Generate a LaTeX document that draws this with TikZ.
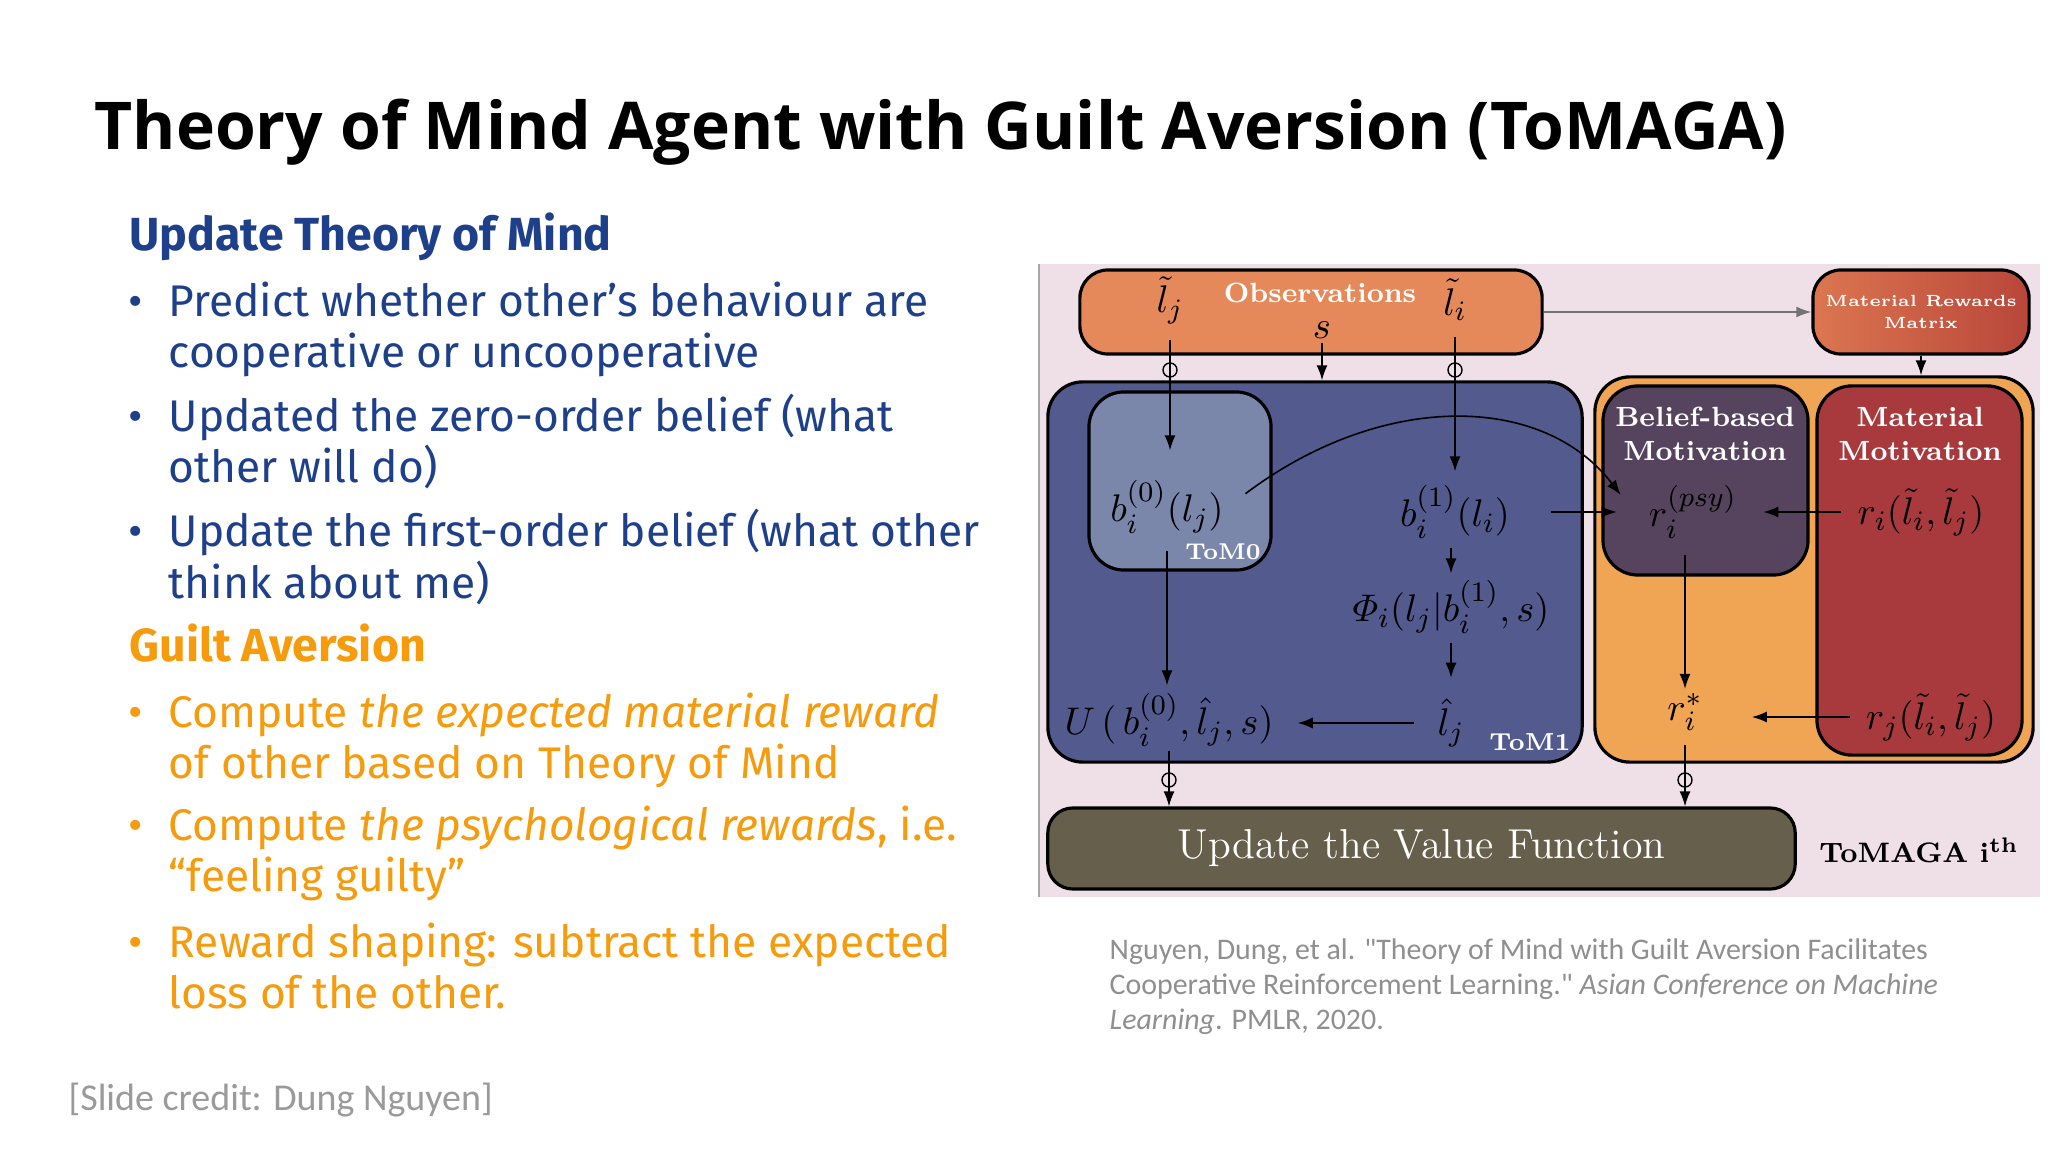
\documentclass[tikz,border=0pt]{standalone}
\usepackage{fontspec}
\usepackage{amsmath}
\usetikzlibrary{arrows.meta, calc}
\newfontfamily\titlefont{Open Sans}
\newfontfamily\slidefont{Fira Sans}
\newfontfamily\citefont{Carlito}
\definecolor{navytext}{HTML}{1E3F8A}
\definecolor{orangetext}{HTML}{F59B0C}
\definecolor{citegray}{HTML}{8F8F8F}
\definecolor{diagbg}{HTML}{EFE0E7}
\definecolor{obsorange}{HTML}{E6895A}
\definecolor{mrmlight}{HTML}{DC7650}
\definecolor{mrmdark}{HTML}{B8463A}
\definecolor{tomblue}{HTML}{525A8E}
\definecolor{tomlight}{HTML}{7A86AA}
\definecolor{guiltorange}{HTML}{EFA553}
\definecolor{beliefpurple}{HTML}{56445F}
\definecolor{matred}{HTML}{A83A3E}
\definecolor{updolive}{HTML}{665F4B}
\tikzset{%
	box/.style = { draw=black, line width=0.9pt, inner sep=0pt },
	arr/.style = { -{Latex[length=1.5mm, width=1.1mm]}, line width=0.45pt },
	boxlabel/.style = { white, align=center, font=\bfseries\fontsize{7.9}{9.8}\selectfont },
	mathlabel/.style = { inner sep=1pt, font=\fontsize{10.8}{13}\selectfont },
	slideline/.style = { anchor=base west, inner sep=0pt },
	headfont/.style = { font=\slidefont\bfseries\fontsize{13.2}{15}\selectfont },
	bodyfont/.style = { font=\slidefont\fontsize{12.6}{15}\selectfont },
	citefont/.style = { citegray, font=\citefont\fontsize{8.5}{10}\selectfont },
	loopmark/.style = { line width=0.4pt }
}

\begin{document}
\begin{tikzpicture}[x=0.01cm, y=-0.01cm]
	\useasboundingbox (0,0) rectangle (2048,1152);
	\fill[white] (0,0) rectangle (2048,1152);
	% titel
	\node[slideline, font=\titlefont\bfseries\fontsize{18.75}{22}\selectfont] (title) at (94,150) {Theory of Mind Agent with Guilt Aversion (ToMAGA)};
	% linke spalte
	\node[slideline, headfont, navytext] (head1) at (129,251) {Update Theory of Mind};
	\foreach \yy/\txt [count=\k] in {317/{Predict whether other’s behaviour are}, 368/{cooperative or uncooperative}, 432/{Updated the zero-order belief (what}, 483/{other will do)}, 547/{Update the first-order belief (what other}, 598/{think about me)}}
		\node[slideline, bodyfont, navytext] (tl\k) at (168,\yy) {\txt};
	\foreach \yy in {317,432,547}
		\node[slideline, bodyfont, navytext] (dot\yy) at (128,\yy) {•};
	\node[slideline, headfont, orangetext] (head2) at (129,662) {Guilt Aversion};
	\foreach \yy/\txt [count=\k] in {727/{Compute \textit{the expected material reward}}, 778/{of other based on Theory of Mind}, 840/{Compute \textit{the psychological rewards}, i.e.}, 891/{“feeling guilty”}, 957/{Reward shaping: subtract the expected}, 1008/{loss of the other.}}
		\node[slideline, bodyfont, orangetext] (gl\k) at (168,\yy) {\txt};
	\foreach \yy in {727,840,957}
		\node[slideline, bodyfont, orangetext] (odot\yy) at (128,\yy) {•};
	\node[slideline, citefont, font=\citefont\fontsize{10.8}{12}\selectfont, citegray!90] (credit) at (68,1110) {[Slide credit: Dung Nguyen]};
	% quelle
	\foreach \yy/\txt [count=\k] in {959/{Nguyen, Dung, et al. "Theory of Mind with Guilt Aversion Facilitates}, 994/{Cooperative Reinforcement Learning." \textit{Asian Conference on Machine}}, 1029/{\textit{Learning}. PMLR, 2020.}}
		\node[slideline, citefont] (cite\k) at (1109,\yy) {\txt};

	% diagramm hintergrund
	\fill[diagbg] (1039,264) rectangle (2040,897);
	\draw[black!35, line width=0.6pt] (1039,264) -- (1039,897);
	% kaesten
	\node[box, fill=obsorange, rounded corners=2.8mm, minimum width=4.62cm, minimum height=0.84cm] (obs) at (1311,312) {};
	\node[box, left color=mrmlight, right color=mrmdark, rounded corners=2.8mm, minimum width=2.16cm, minimum height=0.84cm, text=white, align=center, font=\bfseries\fontsize{4.6}{6.4}\selectfont] (mrm) at (1921,312) {Material Rewards\\Matrix};
	\node[box, fill=tomblue, rounded corners=3.5mm, minimum width=5.34cm, minimum height=3.8cm] (tom1) at (1315,572) {};
	\node[box, fill=tomlight, rounded corners=3.5mm, minimum width=1.82cm, minimum height=1.78cm] (tom0) at (1180,481) {};
	\node[box, fill=guiltorange, rounded corners=3.5mm, minimum width=4.38cm, minimum height=3.85cm] (guilt) at (1814,569.5) {};
	\node[box, fill=beliefpurple, rounded corners=3.5mm, minimum width=2.05cm, minimum height=1.89cm] (belief) at (1705.5,480.5) {};
	\node[box, fill=matred, rounded corners=3.5mm, minimum width=2.05cm, minimum height=3.69cm] (material) at (1919.5,570.5) {};
	\node[box, fill=updolive, rounded corners=2.5mm, minimum width=7.47cm, minimum height=0.81cm, text=white, font=\fontsize{11.9}{13}\selectfont] (update) at (1421.5,848.5) {Update the Value Function};
	% beschriftungen
	\node[boxlabel] (obsname) at (1320,293) {Observations};
	\node[boxlabel] (beliefname) at (1705,434) {Belief-based\\Motivation};
	\node[boxlabel] (matname) at (1920,434) {Material\\Motivation};
	\node[white, font=\bfseries\fontsize{6.5}{8}\selectfont] (tom0name) at (1223,552) {ToM0};
	\node[white, font=\bfseries\fontsize{7}{8}\selectfont] (tom1name) at (1530,742) {ToM1};
	\node[font=\bfseries\fontsize{8}{10}\selectfont] (agent) at (1919,850) {ToMAGA i\textsuperscript{th}};
	% formeln
	\node[mathlabel] (lj) at (1170,300) {$\tilde{l}_j$};
	\node[mathlabel] (s) at (1322,330) {$s$};
	\node[mathlabel] (li) at (1455,300) {$\tilde{l}_i$};
	\node[mathlabel] (b0) at (1167,507) {$b_i^{(0)}(l_j)$};
	\node[mathlabel] (b1) at (1455,512) {$b_i^{(1)}(l_i)$};
	\node[mathlabel] (phi) at (1451,607) {$\varPhi_i(l_j|b_i^{(1)},s)$};
	\node[mathlabel] (lhat) at (1451,723) {$\hat{l}_j$};
	\node[mathlabel] (U) at (1169,720) {$U\,(\,b_i^{(0)},\hat{l}_j,s)$};
	\node[mathlabel] (rpsy) at (1693,512) {$r_i^{(psy)}$};
	\node[mathlabel] (ri) at (1921,512) {$r_i(\tilde{l}_i,\tilde{l}_j)$};
	\node[mathlabel] (rstar) at (1685,712) {$r_i^{*}$};
	\node[mathlabel] (rj) at (1931,717) {$r_j(\tilde{l}_i,\tilde{l}_j)$};
	% pfeile
	\draw[arr, shorten <=1.2mm, shorten >=2.6mm] (lj.south) -- (lj.south |- b0.north);
	\draw[arr] (s.south) -- (s.south |- tom1.north);
	\draw[arr, shorten <=1.2mm, shorten >=1mm] (li.south) -- (li.south |- b1.north);
	\draw[arr, shorten <=1.3mm, shorten >=0.4mm] (b0.south) -- (b0.south |- U.north);
	\draw[arr, shorten <=0.5mm, shorten >=0.3mm] (b1.south -| phi) -- (phi.north);
	\draw[arr, shorten <=0.5mm, shorten >=1.7mm] (phi.south -| lhat) -- (lhat.north);
	\draw[arr, shorten <=1.9mm, shorten >=2mm] (lhat.west) -- (lhat.west -| U.east);
	\draw[arr] (U.south) -- (U.south |- update.north);
	\draw[arr, shorten <=2.2mm] (b0.east) .. controls (1380,392) and (1542,392) .. ($(rpsy.west)+(-24,-17)$);
	\draw[arr, shorten <=3.7mm, shorten >=2.8mm] (b1.east) -- (b1.east -| rpsy.west);
	\draw[arr, shorten <=1.2mm, shorten >=2.2mm] (ri.west) -- (ri.west -| rpsy.east);
	\draw[arr, shorten <=1.2mm] (rpsy.south -| rstar) -- (rstar.north);
	\draw[arr, shorten <=1.2mm, shorten >=4.5mm] (rj.west) -- (rj.west -| rstar.east);
	\draw[arr, shorten <=1mm] (rstar.south) -- (rstar.south |- update.north);
	\draw[arr, draw=black!55] (obs.east) -- (mrm.west);
	\draw[arr] (mrm.south) -- (mrm.south |- guilt.north);
	% kleine schleifen
	\foreach \p in {(1170,370),(1455,370),(1169,780),(1685,780)}
		\draw[loopmark] \p circle[radius=0.07cm];
\end{tikzpicture}
\end{document}
